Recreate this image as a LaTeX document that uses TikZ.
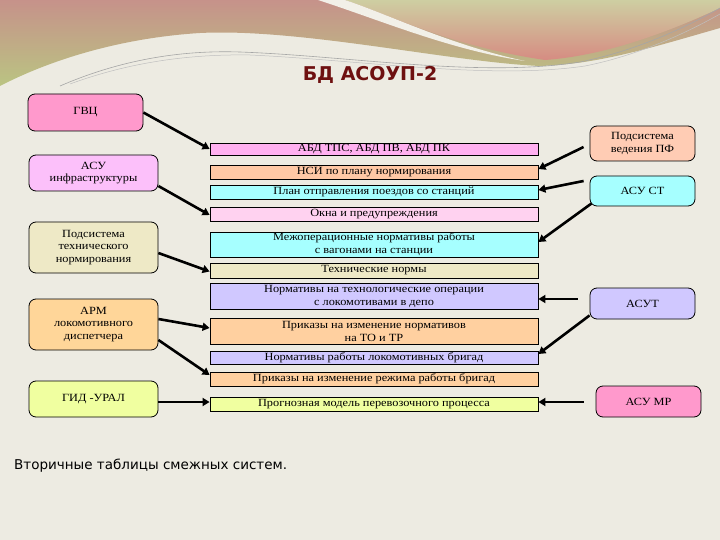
\documentclass[tikz,border=0pt]{standalone}
\usepackage{fontspec}
\setmainfont{Liberation Serif}
\newfontfamily\boxfont[FakeStretch=1.12]{Liberation Serif}
\newfontfamily\sansf{DejaVu Sans}
\usetikzlibrary{arrows.meta,calc}
\definecolor{bg}{RGB}{237,235,226}
\definecolor{stripe}{RGB}{242,240,232}
\definecolor{decpink}{RGB}{198,146,138}
\definecolor{decgreen}{RGB}{186,196,130}
\definecolor{decgreen2}{RGB}{206,206,162}
\definecolor{decpink2}{RGB}{214,140,130}
\definecolor{titlered}{RGB}{110,16,16}
\definecolor{cgvc}{RGB}{255,153,204}
\definecolor{cinf}{RGB}{252,192,250}
\definecolor{ctex}{RGB}{238,233,198}
\definecolor{carm}{RGB}{255,214,153}
\definecolor{cgid}{RGB}{240,255,160}
\definecolor{cpf}{RGB}{255,204,180}
\definecolor{ccyan}{RGB}{166,255,255}
\definecolor{clav}{RGB}{208,200,255}
\definecolor{cabd}{RGB}{255,176,240}
\definecolor{cnsi}{RGB}{255,200,165}
\definecolor{cokna}{RGB}{255,210,240}
\definecolor{cprik}{RGB}{255,208,160}
\begin{document}
\begin{tikzpicture}[x=1pt,y=-1pt,
  lbox/.style={draw=black, line width=0.8pt, rounded corners=7pt, align=center,
    inner sep=1pt, font=\boxfont\fontsize{11}{12.5}\selectfont},
  bar/.style={draw=black, line width=0.8pt, minimum width=328pt, inner sep=0pt,
    align=center, font=\boxfont\fontsize{11}{13}\selectfont},
  arr/.style={line width=2.6pt, -{Triangle[length=7pt,width=8pt]}}]
\useasboundingbox (0,0) rectangle (720,540);
% background
\fill[bg] (0,0) rectangle (720,540);
\shade[top color=decpink, bottom color=decgreen]
  (0,0) -- (720,0) -- (720,28) .. controls (650,48) and (600,64) .. (540,66)
  .. controls (450,62) and (300,28) .. (200,33) .. controls (120,38) and (50,60) .. (0,86) -- cycle;
\shade[top color=decgreen2, bottom color=decpink2]
  (345,0) -- (720,0) -- (720,8) .. controls (660,36) and (600,56) .. (545,60)
  .. controls (450,46) and (390,15) .. (345,0) -- cycle;
\fill[stripe] (318,0) .. controls (380,20) and (450,50) .. (525,61)
  .. controls (450,45) and (390,15) .. (345,0) -- cycle;
\draw[gray!70, line width=0.6pt] (60,86) .. controls (120,60) and (180,50) .. (240,52)
  .. controls (350,56) and (480,78) .. (580,62) .. controls (640,50) and (690,25) .. (720,8);
\draw[gray!50, line width=0.5pt] (70,84) .. controls (130,62) and (190,54) .. (250,55)
  .. controls (360,60) and (490,80) .. (585,66) .. controls (645,54) and (695,28) .. (720,14);
% title
\node[font=\sansf\bfseries\fontsize{19}{22}\selectfont, text=titlered] (title) at (370,75) {БД АСОУП-2};
% left boxes
\node[lbox, fill=cgvc, minimum width=115pt, minimum height=37pt] (gvc) at (85.5,112.5) {ГВЦ};
\node[lbox, fill=cinf, minimum width=129pt, minimum height=36pt] (inf) at (93.5,173) {АСУ\\инфраструктуры};
\node[lbox, fill=ctex, minimum width=129pt, minimum height=51pt] (tex) at (93.5,247.5) {Подсистема\\технического\\нормирования};
\node[lbox, fill=carm, minimum width=129pt, minimum height=51pt] (arm) at (93.5,324.5) {АРМ\\локомотивного\\диспетчера};
\node[lbox, fill=cgid, minimum width=129pt, minimum height=36pt] (gid) at (93.5,399) {ГИД -УРАЛ};
% right boxes
\node[lbox, fill=cpf, minimum width=105pt, minimum height=35pt] (pf) at (642.5,143.5) {Подсистема\\ведения ПФ};
\node[lbox, fill=ccyan, minimum width=105pt, minimum height=30pt] (st) at (642.5,191) {АСУ СТ};
\node[lbox, fill=clav, minimum width=105pt, minimum height=31pt] (asut) at (642.5,303.5) {АСУТ};
\node[lbox, fill=cgvc, minimum width=105pt, minimum height=31pt] (mr) at (648.5,401.5) {АСУ МР};
% bars
\node[bar, fill=cabd, minimum height=12pt] (abd) at (374,149) {АБД ТПС, АБД ПВ, АБД ПК};
\node[bar, fill=cnsi, minimum height=14pt] (nsi) at (374,172) {НСИ по плану нормирования};
\node[bar, fill=ccyan, minimum height=14pt] (plan) at (374,192) {План отправления поездов со станций};
\node[bar, fill=cokna, minimum height=14pt] (okna) at (374,214) {Окна и предупреждения};
\node[bar, fill=ccyan, minimum height=25pt] (mezh) at (374,244.5) {Межоперационные нормативы работы\\с вагонами на станции};
\node[bar, fill=ctex, minimum height=15pt] (tehn) at (374,270.5) {Технические нормы};
\node[bar, fill=clav, minimum height=26pt] (normteh) at (374,296) {Нормативы на технологические операции\\с локомотивами в депо};
\node[bar, fill=cprik, minimum height=26pt] (prikto) at (374,331) {Приказы на изменение нормативов\\на ТО и ТР};
\node[bar, fill=clav, minimum height=13pt] (normbr) at (374,357.5) {Нормативы работы локомотивных бригад};
\node[bar, fill=cprik, minimum height=14pt] (prikrezh) at (374,379) {Приказы на изменение режима работы бригад};
\node[bar, fill=cgid, minimum height=14pt] (prog) at (374,404) {Прогнозная модель перевозочного процесса};
% footer
\node[font=\sansf\fontsize{13.5}{15}\selectfont, anchor=west, inner sep=0pt] (foot) at (14,466) {Вторичные таблицы смежных систем.};
% arrows
\draw[arr] (gvc.east) -- (abd.west);
\draw[arr] ([yshift=-13pt]inf.east) -- ([yshift=-1pt]okna.west);
\draw[arr] ([yshift=-5.5pt]tex.east) -- ([yshift=-1pt]tehn.west);
\draw[arr] ([yshift=5.5pt]arm.east) -- ([yshift=3pt]prikto.west);
\draw[arr] ([yshift=-15.5pt]arm.east) -- ([yshift=4pt]prikrezh.west);
\draw[arr] ($(gid.east |- prog.west)+(0,-2)$) -- ([yshift=2pt]prog.west);
\draw[arr] ([xshift=-6pt,yshift=-3.5pt]pf.west) -- ([yshift=3pt]nsi.east);
\draw[arr] ([xshift=-6pt,yshift=10pt]st.west) -- ([yshift=2pt]plan.east);
\draw[arr] ([xshift=2pt,yshift=3pt]st.south west) -- ([yshift=2.5pt]mezh.east);
\draw[arr] ([xshift=-12pt,yshift=4.5pt]asut.west) -- ([yshift=-3pt]normteh.east);
\draw[arr] ([yshift=4pt]asut.south west) -- ([yshift=3.5pt]normbr.east);
\draw[arr] ($(mr.west |- prog.east)+(-12,-2)$) -- ([yshift=2pt]prog.east);
\end{tikzpicture}
\end{document}
